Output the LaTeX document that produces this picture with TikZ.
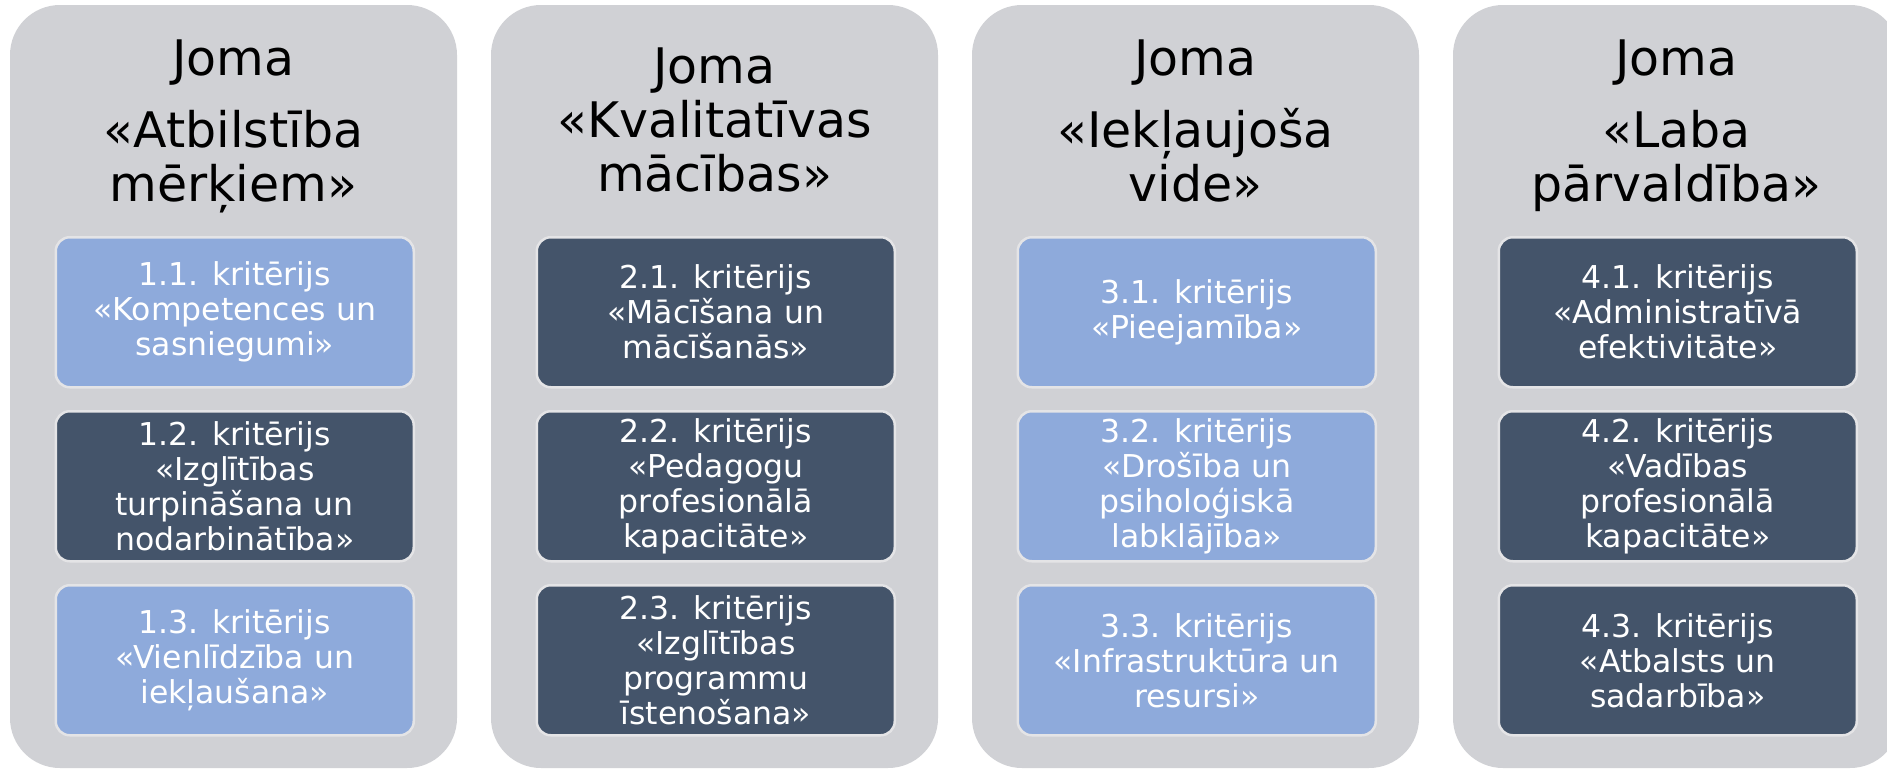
\documentclass[tikz,border=0pt]{standalone}
\usepackage{fontspec}
\setmainfont{DejaVu Sans}
\definecolor{colbg}{HTML}{D0D1D5}
\definecolor{lblue}{HTML}{8EAADB}
\definecolor{dblue}{HTML}{44546A}
\definecolor{edgegray}{HTML}{E4E4E6}
\begin{document}
\begin{tikzpicture}[x=1pt,y=-1pt,
  column/.style={fill=colbg, rounded corners=50pt, minimum width=447pt, minimum height=763pt, anchor=north west, inner sep=0pt, outer sep=0pt},
  crit/.style={draw=edgegray, line width=2.5pt, rounded corners=14pt, minimum width=358pt, minimum height=150pt, inner sep=0pt, text=white, align=center, font=\fontsize{31.5}{35}\selectfont, anchor=north west},
  light/.style={crit, fill=lblue},
  dark/.style={crit, fill=dblue},
  hdr/.style={anchor=base, font=\fontsize{49}{54}\selectfont, text=black, inner sep=0pt}
]
\useasboundingbox (0,0) rectangle (1887,771);
\clip (0,0) rectangle (1887,771);
\fill[white] (0,0) rectangle (1887,771);

% columns
\node[column] (c1) at (10,5) {};
\node[column] (c2) at (491,5) {};
\node[column] (c3) at (972,5) {};
\node[column] (c4) at (1453,5) {};

% headers
\node[hdr] (h1a) at (233.5,75) {Joma};
\node[hdr] (h1b) at (233.5,147) {«Atbilstība};
\node[hdr] (h1c) at (233.5,201) {mērķiem»};

\node[hdr] (h2a) at (714.5,83) {Joma};
\node[hdr] (h2b) at (714.5,137) {«Kvalitatīvas};
\node[hdr] (h2c) at (714.5,191) {mācības»};

\node[hdr] (h3a) at (1195.5,75) {Joma};
\node[hdr] (h3b) at (1195.5,147) {«Iekļaujoša};
\node[hdr] (h3c) at (1195.5,201) {vide»};

\node[hdr] (h4a) at (1676.5,75) {Joma};
\node[hdr] (h4b) at (1676.5,147) {«Laba};
\node[hdr] (h4c) at (1676.5,201) {pārvaldība»};

% criteria column 1
\node[light] (k11) at (54.5,236) {1.1. kritērijs\\«Kompetences un\\sasniegumi»};
\node[dark]  (k12) at (54.5,410) {1.2. kritērijs\\«Izglītības\\turpināšana un\\nodarbinātība»};
\node[light] (k13) at (54.5,584) {1.3. kritērijs\\«Vienlīdzība un\\iekļaušana»};

% criteria column 2
\node[dark] (k21) at (535.5,236) {2.1. kritērijs\\«Mācīšana un\\mācīšanās»};
\node[dark] (k22) at (535.5,410) {2.2. kritērijs\\«Pedagogu\\profesionālā\\kapacitāte»};
\node[dark] (k23) at (535.5,584) {2.3. kritērijs\\«Izglītības\\programmu\\īstenošana»};

% criteria column 3
\node[light] (k31) at (1016.5,236) {3.1. kritērijs\\«Pieejamība»};
\node[light] (k32) at (1016.5,410) {3.2. kritērijs\\«Drošība un\\psiholoģiskā\\labklājība»};
\node[light] (k33) at (1016.5,584) {3.3. kritērijs\\«Infrastruktūra un\\resursi»};

% criteria column 4
\node[dark] (k41) at (1497.5,236) {4.1. kritērijs\\«Administratīvā\\efektivitāte»};
\node[dark] (k42) at (1497.5,410) {4.2. kritērijs\\«Vadības\\profesionālā\\kapacitāte»};
\node[dark] (k43) at (1497.5,584) {4.3. kritērijs\\«Atbalsts un\\sadarbība»};
\end{tikzpicture}
\end{document}
